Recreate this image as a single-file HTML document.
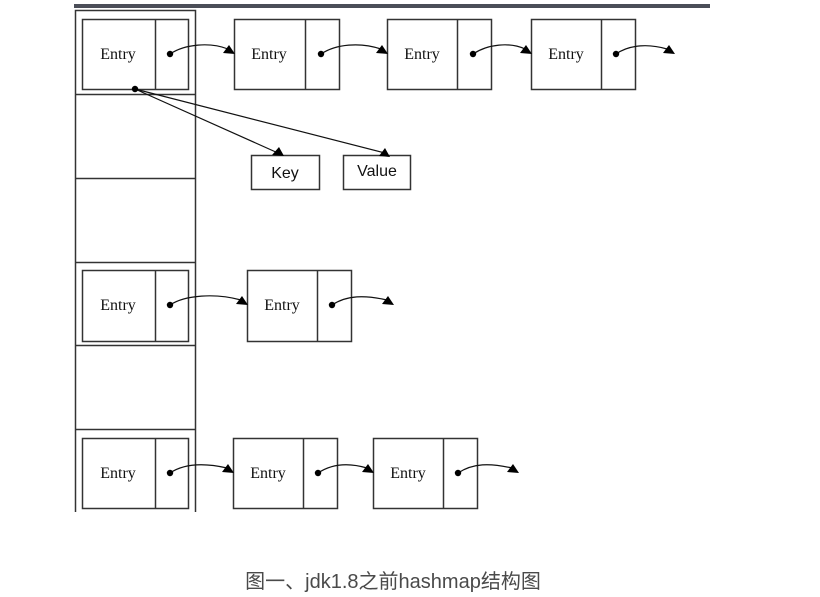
<!DOCTYPE html>
<html><head><meta charset="utf-8"><style>
html,body{margin:0;padding:0;background:#fff;width:820px;height:597px;overflow:hidden}
svg{position:absolute;left:0;top:0}
.cap{position:absolute;left:0;width:786px;top:565px;text-align:center;font:20px "Liberation Sans","Noto Sans CJK SC",sans-serif;color:#4a4a4a}
</style></head><body>
<svg width="820" height="597" viewBox="0 0 820 597">
<rect x="74" y="4" width="636" height="4" fill="#4b4e58"/>
<g stroke="#333" stroke-width="1.5" fill="none">
<path d="M75.5 512V10.5H195.5V512"/>
<path d="M75 94.5H195M75 178.5H195M75 262.5H195M75 345.5H195M75 429.5H195"/>
<rect x="82.5" y="19.5" width="106" height="70"/><path d="M155.5 19.5V89.5"/>
<rect x="234.5" y="19.5" width="105" height="70"/><path d="M305.5 19.5V89.5"/>
<rect x="387.5" y="19.5" width="104" height="70"/><path d="M457.5 19.5V89.5"/>
<rect x="531.5" y="19.5" width="104" height="70"/><path d="M601.5 19.5V89.5"/>
<rect x="82.5" y="270.5" width="106" height="71"/><path d="M155.5 270.5V341.5"/>
<rect x="247.5" y="270.5" width="104" height="71"/><path d="M317.5 270.5V341.5"/>
<rect x="82.5" y="438.5" width="106" height="70"/><path d="M155.5 438.5V508.5"/>
<rect x="233.5" y="438.5" width="104" height="70"/><path d="M303.5 438.5V508.5"/>
<rect x="373.5" y="438.5" width="104" height="70"/><path d="M443.5 438.5V508.5"/>
<rect x="251.5" y="155.5" width="68" height="34"/>
<rect x="343.5" y="155.5" width="67" height="34"/>
<g stroke="#111" stroke-width="1.2">
<path d="M170 54C185 44 210 42 228 49"/>
<path d="M321 54C336 44 360 42 381 49"/>
<path d="M473 54C488 44 510 42 525 49"/>
<path d="M616 54C630 44 650 44 667 49"/>
<path d="M170 305C185 295 215 293 241 300"/>
<path d="M332 305C347 295 365 295 387 300"/>
<path d="M170 473C185 463 205 463 227 468"/>
<path d="M318 473C333 463 350 463 367 468"/>
<path d="M458 473C473 463 490 463 512 468"/>
<path d="M135 89L278 153M135 89L385 153"/>
</g>
</g>
<g fill="#000">
<circle cx="170" cy="54" r="3.2"/><circle cx="321" cy="54" r="3.2"/><circle cx="473" cy="54" r="3.2"/><circle cx="616" cy="54" r="3.2"/>
<circle cx="170" cy="305" r="3.2"/><circle cx="332" cy="305" r="3.2"/>
<circle cx="170" cy="473" r="3.2"/><circle cx="318" cy="473" r="3.2"/><circle cx="458" cy="473" r="3.2"/>
<circle cx="135" cy="89" r="3.2"/>
<path d="M223 53L229 45L235 54Z"/><path d="M376 53L382 45L388 54Z"/><path d="M520 53L526 45L532 54Z"/><path d="M663 53L669 45L675 54Z"/>
<path d="M236 304L242 296L248 305Z"/><path d="M382 304L388 296L394 305Z"/>
<path d="M222 472L228 464L234 473Z"/><path d="M362 472L368 464L374 473Z"/><path d="M507 472L513 464L519 473Z"/>
<path d="M272 155L279 147L284 156Z"/><path d="M379 156L385 148L390 157Z"/>
</g>
<g font-family="Liberation Serif, serif" font-size="16" fill="#111" text-anchor="middle">
<text x="118" y="59">Entry</text><text x="269" y="59">Entry</text><text x="422" y="59">Entry</text><text x="566" y="59">Entry</text>
<text x="118" y="310">Entry</text><text x="282" y="310">Entry</text>
<text x="118" y="478">Entry</text><text x="268" y="478">Entry</text><text x="408" y="478">Entry</text>
</g>
<g font-family="Liberation Sans, sans-serif" font-size="16" fill="#111" text-anchor="middle">
<text x="285" y="178">Key</text><text x="377" y="176">Value</text>
</g>
</svg>
<div class="cap">图一、jdk1.8之前hashmap结构图</div>
</body></html>
